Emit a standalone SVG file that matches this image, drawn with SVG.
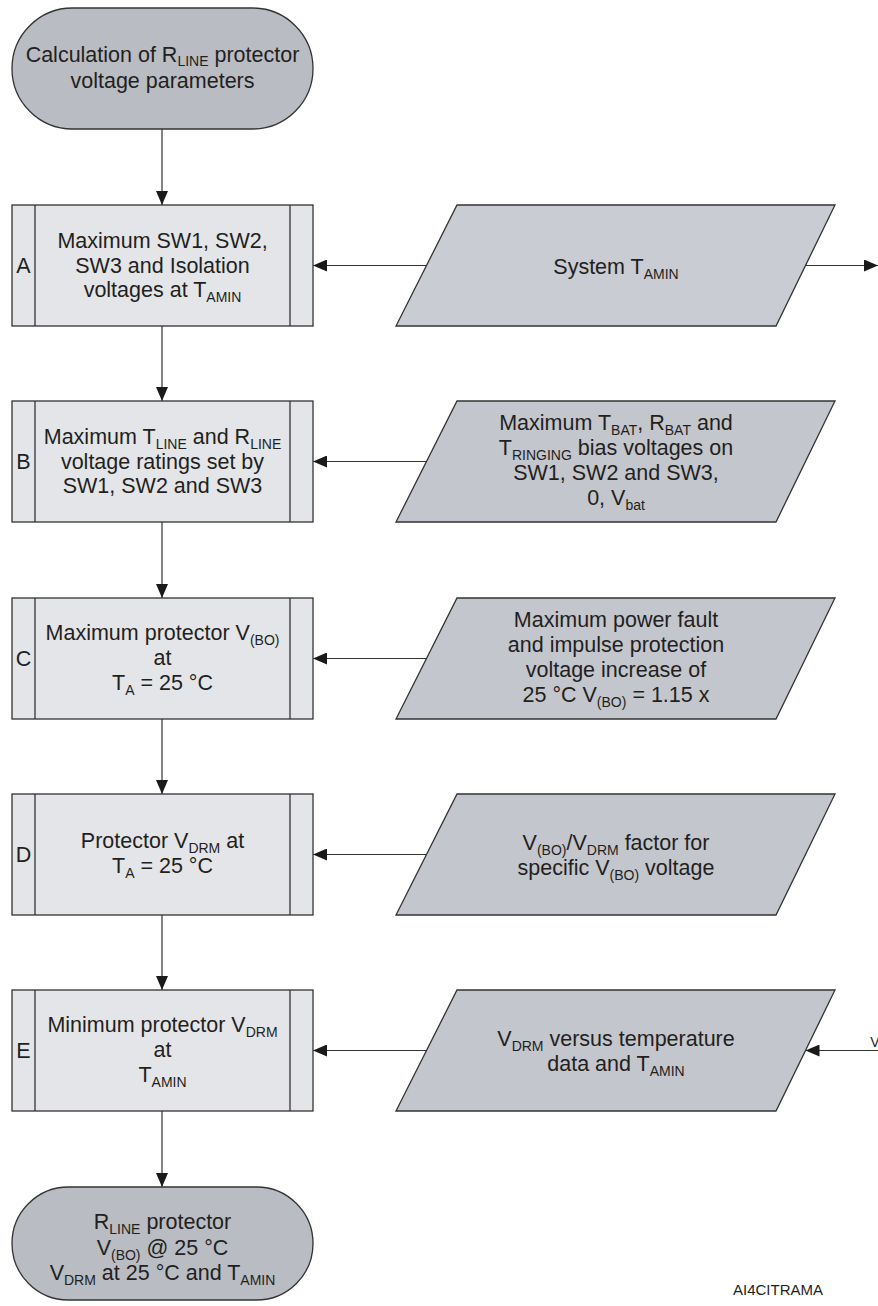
<svg xmlns="http://www.w3.org/2000/svg" width="878" height="1306" viewBox="0 0 878 1306">
<style>
text{font-family:"Liberation Sans",Arial,sans-serif;font-size:21.5px;fill:#231f20;text-anchor:middle}
.s{font-size:14px}
.box{fill:#e4e5e8;stroke:#333;stroke-width:1.3}
.col{stroke:#333;stroke-width:1.3}
.para{fill:#c3c6cc;stroke:#333;stroke-width:1.3}
.paraA{fill:#c9ccd3;stroke:#333;stroke-width:1.3}
.term{fill:#b9bcc2;stroke:#333;stroke-width:1.3}
.conn{fill:none;stroke:#333;stroke-width:1.2;marker-end:url(#ah)}
.lbl{font-size:15px}
</style>
<defs>
<marker id="ah" markerUnits="userSpaceOnUse" markerWidth="14" markerHeight="12" refX="14" refY="6" orient="auto">
<path d="M0,0 L14,6 L0,12 z" fill="#1a1a1a"/>
</marker>
</defs>
<rect width="878" height="1306" fill="#fff"/>

<g id="connectors">
<path class="conn" d="M162,129 V205"/>
<path class="conn" d="M162,326 V401"/>
<path class="conn" d="M162,522 V598"/>
<path class="conn" d="M162,719 V794"/>
<path class="conn" d="M162,915 V990"/>
<path class="conn" d="M162,1111 V1187"/>
<path class="conn" d="M426.5,265.5 H313"/>
<path class="conn" d="M805.5,265.5 H878"/>
<path class="conn" d="M426.5,461.5 H313"/>
<path class="conn" d="M426.5,658.5 H313"/>
<path class="conn" d="M426.5,854.5 H313"/>
<path class="conn" d="M426.5,1050.5 H313"/>
<path class="conn" d="M878,1050.5 H805.5"/>
</g>

<g id="start">
<rect class="term" x="12" y="8" width="301" height="121" rx="60.5" ry="60.5"/>
<text x="162.5" y="62">Calculation of R<tspan class="s" dy="4">LINE</tspan><tspan dy="-4"> protector</tspan></text>
<text x="162.5" y="88">voltage parameters</text>
</g>

<g id="boxA">
<rect class="box" x="12" y="205" width="301" height="121"/>
<line class="col" x1="35" y1="205" x2="35" y2="326"/>
<line class="col" x1="290" y1="205" x2="290" y2="326"/>
<text x="23.5" y="273">A</text>
<text x="162.5" y="248">Maximum SW1, SW2,</text>
<text x="162.5" y="272.5">SW3 and Isolation</text>
<text x="162.5" y="297">voltages at T<tspan class="s" dy="5">AMIN</tspan></text>
</g>

<g id="inA">
<polygon class="paraA" points="457,205 835,205 776,326 396,326"/>
<text x="616" y="274">System T<tspan class="s" dy="5">AMIN</tspan></text>
</g>

<g id="boxB">
<rect class="box" x="12" y="401" width="301" height="121"/>
<line class="col" x1="35" y1="401" x2="35" y2="522"/>
<line class="col" x1="290" y1="401" x2="290" y2="522"/>
<text x="23.5" y="469">B</text>
<text x="162.5" y="444">Maximum T<tspan class="s" dy="5">LINE</tspan><tspan dy="-5"> and R</tspan><tspan class="s" dy="5">LINE</tspan></text>
<text x="162.5" y="468.5">voltage ratings set by</text>
<text x="162.5" y="493">SW1, SW2 and SW3</text>
</g>

<g id="inB">
<polygon class="para" points="457,401 835,401 776,522 396,522"/>
<text x="616" y="430">Maximum T<tspan class="s" dy="5">BAT</tspan><tspan dy="-5">, R</tspan><tspan class="s" dy="5">BAT</tspan><tspan dy="-5"> and</tspan></text>
<text x="616" y="455">T<tspan class="s" dy="5">RINGING</tspan><tspan dy="-5"> bias voltages on</tspan></text>
<text x="616" y="480">SW1, SW2 and SW3,</text>
<text x="616" y="505">0, V<tspan class="s" dy="5">bat</tspan></text>
</g>

<g id="boxC">
<rect class="box" x="12" y="598" width="301" height="121"/>
<line class="col" x1="35" y1="598" x2="35" y2="719"/>
<line class="col" x1="290" y1="598" x2="290" y2="719"/>
<text x="23.5" y="666">C</text>
<text x="162.5" y="640">Maximum protector V<tspan class="s" dy="5">(BO)</tspan></text>
<text x="162.5" y="665">at</text>
<text x="162.5" y="690">T<tspan class="s" dy="5">A</tspan><tspan dy="-5"> = 25 °C</tspan></text>
</g>

<g id="inC">
<polygon class="para" points="457,598 835,598 776,719 396,719"/>
<text x="616" y="627">Maximum power fault</text>
<text x="616" y="652">and impulse protection</text>
<text x="616" y="677">voltage increase of</text>
<text x="616" y="702">25 °C V<tspan class="s" dy="5">(BO)</tspan><tspan dy="-5"> = 1.15 x</tspan></text>
</g>

<g id="boxD">
<rect class="box" x="12" y="794" width="301" height="121"/>
<line class="col" x1="35" y1="794" x2="35" y2="915"/>
<line class="col" x1="290" y1="794" x2="290" y2="915"/>
<text x="23.5" y="862">D</text>
<text x="162.5" y="848">Protector V<tspan class="s" dy="5">DRM</tspan><tspan dy="-5"> at</tspan></text>
<text x="162.5" y="873">T<tspan class="s" dy="5">A</tspan><tspan dy="-5"> = 25 °C</tspan></text>
</g>

<g id="inD">
<polygon class="para" points="457,794 835,794 776,915 396,915"/>
<text x="616" y="850">V<tspan class="s" dy="5">(BO)</tspan><tspan dy="-5">/V</tspan><tspan class="s" dy="5">DRM</tspan><tspan dy="-5"> factor for</tspan></text>
<text x="616" y="874.5">specific V<tspan class="s" dy="5">(BO)</tspan><tspan dy="-5"> voltage</tspan></text>
</g>

<g id="boxE">
<rect class="box" x="12" y="990" width="301" height="121"/>
<line class="col" x1="35" y1="990" x2="35" y2="1111"/>
<line class="col" x1="290" y1="990" x2="290" y2="1111"/>
<text x="23.5" y="1058">E</text>
<text x="162.5" y="1032">Minimum protector V<tspan class="s" dy="5">DRM</tspan></text>
<text x="162.5" y="1057">at</text>
<text x="162.5" y="1081.5">T<tspan class="s" dy="5">AMIN</tspan></text>
</g>

<g id="inE">
<polygon class="para" points="457,990 835,990 776,1111 396,1111"/>
<text x="616" y="1045.5">V<tspan class="s" dy="5">DRM</tspan><tspan dy="-5"> versus temperature</tspan></text>
<text x="616" y="1071">data and T<tspan class="s" dy="5">AMIN</tspan></text>
</g>

<g id="end">
<rect class="term" x="12" y="1187" width="301" height="113" rx="56.5" ry="56.5"/>
<text x="162.5" y="1229">R<tspan class="s" dy="5">LINE</tspan><tspan dy="-5"> protector</tspan></text>
<text x="162.5" y="1255">V<tspan class="s" dy="5">(BO)</tspan><tspan dy="-5"> @ 25 °C</tspan></text>
<text x="162.5" y="1280">V<tspan class="s" dy="5">DRM</tspan><tspan dy="-5"> at 25 °C and T</tspan><tspan class="s" dy="5">AMIN</tspan></text>
</g>

<g id="notes">
<text class="lbl" x="778" y="1295">AI4CITRAMA</text>
<text class="s" x="875" y="1047">V</text>
</g>
</svg>
